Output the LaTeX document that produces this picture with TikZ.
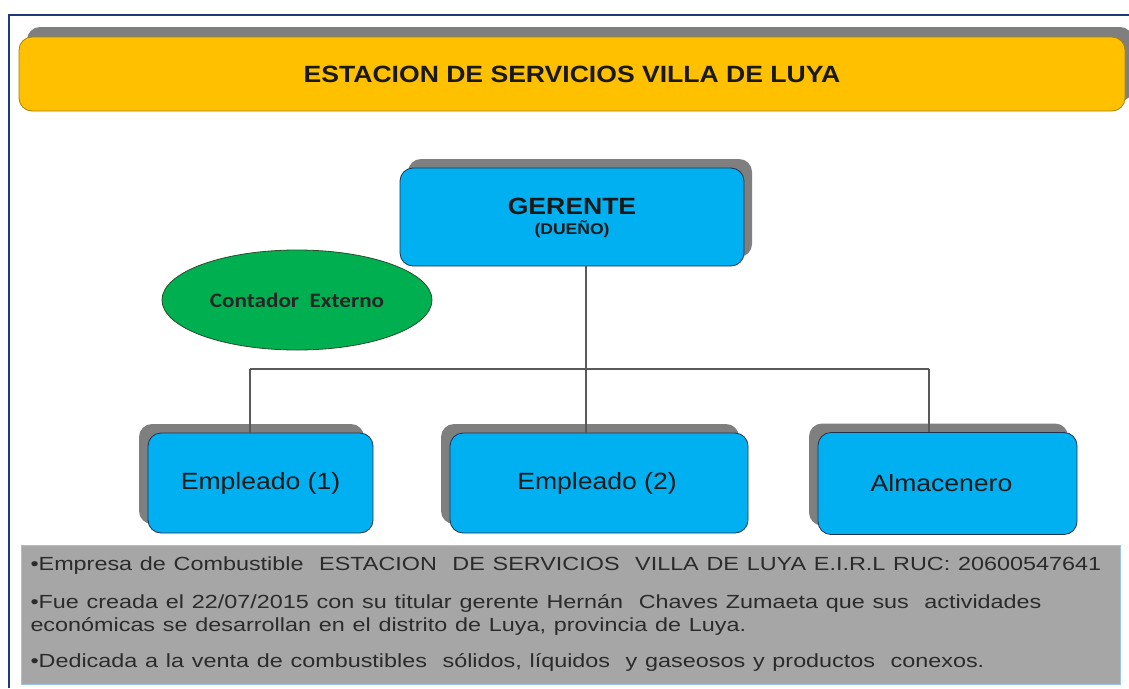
\documentclass[tikz,border=0pt]{standalone}
\usepackage{fontspec}
\setmainfont{Liberation Sans}
\newfontfamily\calib{Carlito}
\usepackage{graphicx}
\usetikzlibrary{shadows,shapes.geometric}
\definecolor{goldfill}{HTML}{FFC000}
\definecolor{golddraw}{HTML}{A88200}
\definecolor{bluefill}{HTML}{00B0F0}
\definecolor{bluedraw}{HTML}{1F3350}
\definecolor{shadowgray}{HTML}{7F7F7F}
\definecolor{greenfill}{HTML}{00B050}
\definecolor{greendraw}{HTML}{2A4A2A}
\definecolor{infofill}{HTML}{A6A6A6}
\definecolor{infodraw}{HTML}{9DC3E6}
\definecolor{framecol}{HTML}{1F3A7A}
\definecolor{conncol}{HTML}{595959}
\definecolor{infotext}{HTML}{2B2B2B}
\newcommand{\sx}[1]{\scalebox{1.13}[1]{#1}}
\newcommand{\sxi}[1]{\scalebox{1.23}[1]{#1}}
\tikzset{
  boxbase/.style={rectangle, rounded corners=13pt, inner sep=0pt, line width=0.8pt},
  titlebox/.style={boxbase, fill=goldfill, draw=golddraw,
    drop shadow={shadow xshift=8pt, shadow yshift=10pt, fill=shadowgray, opacity=1},
    font=\fontsize{23.5}{28}\selectfont\bfseries, text=black!90},
  topbox/.style={boxbase, fill=bluefill, draw=bluedraw,
    drop shadow={shadow xshift=8pt, shadow yshift=9pt, fill=shadowgray, opacity=1},
    text=black!90, align=center},
  empbox/.style={boxbase, fill=bluefill, draw=bluedraw,
    drop shadow={shadow xshift=-9pt, shadow yshift=9pt, fill=shadowgray, opacity=1},
    font=\fontsize{23.5}{28}\selectfont, text=black!90},
  extbox/.style={ellipse, inner sep=0pt, fill=greenfill, draw=greendraw, line width=0.8pt,
    font=\calib\fontsize{20.5}{24}\selectfont\bfseries, text=black!85},
  infobox/.style={rectangle, fill=infofill, draw=infodraw, line width=1pt, inner sep=0pt,
    align=left, text=infotext, font=\fontsize{19}{23}\selectfont},
  conn/.style={draw=conncol, line width=1.2pt}
}
\begin{document}
\begin{tikzpicture}[x=1pt,y=-1pt]
\useasboundingbox (0,0) rectangle (1129,688);
\fill[white] (0,0) rectangle (1129,688);
\draw[framecol, line width=2pt] (8.5,688) -- (8.5,14.5) -- (1129,14.5);

\node[titlebox, minimum width=1106pt, minimum height=74pt] (title) at (572,74)
  {\sx{ESTACION DE SERVICIOS VILLA DE LUYA}};

\node[topbox, minimum width=344pt, minimum height=98pt] (ger) at (572,217)
  {\rule{0pt}{6pt}\\[-6pt]\fontsize{23.5}{28}\selectfont\bfseries\sx{GERENTE}\\[5pt]
   \fontsize{15.5}{18}\selectfont\bfseries\sx{(DUEÑO)}};

\node[extbox, minimum width=270pt, minimum height=100pt] (ext) at (297,300)
  {\sx{Contador\ \ Externo}};

\node[empbox, minimum width=225pt, minimum height=100pt] (e1) at (260.5,483) {\sx{Empleado (1)}};
\node[empbox, minimum width=298pt, minimum height=100pt] (e2) at (599,483) {\sx{Empleado (2)}\hspace*{4pt}};
\node[empbox, minimum width=259pt, minimum height=102pt] (alm) at (947.5,483.5) {\sx{Almacenero}\hspace*{12pt}};

\coordinate (j1) at (250,369);
\coordinate (j2) at (586,369);
\coordinate (j3) at (929,369);
\draw[conn] (ger.south -| j2) -- (j2);
\draw[conn] (j1) -- (j3);
\draw[conn] (j1) -- (e1.north -| j1);
\draw[conn] (j2) -- (e2.north -| j2);
\draw[conn] (j3) -- (alm.north -| j3);

\node[infobox, minimum width=1099pt, minimum height=139pt, text width=1080pt] (info) at (570.5,614.5)
  {\sxi{•Empresa de Combustible\ \ ESTACION\ \ DE SERVICIOS\ \ VILLA DE LUYA E.I.R.L RUC: 20600547641}\\[15pt]
   \sxi{•Fue creada el 22/07/2015 con su titular gerente Hernán\ \ Chaves Zumaeta que sus\ \ actividades}\\
   \sxi{económicas se desarrollan en el distrito de Luya, provincia de Luya.}\\[13pt]
   \sxi{•Dedicada a la venta de combustibles\ \ sólidos, líquidos\ \ y gaseosos y productos\ \ conexos.}};
\end{tikzpicture}
\end{document}
